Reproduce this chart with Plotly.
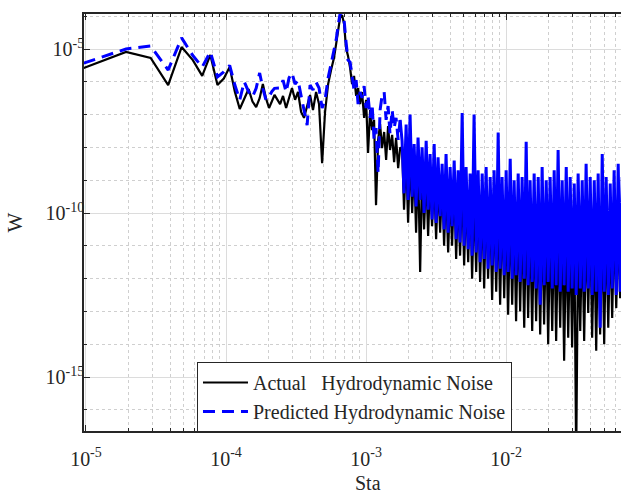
import numpy as np
import plotly.graph_objects as go

# ---------------- data (log10 of Sta and of W) ----------------
# low-frequency bins
sta_log10_low = [-5.016, -4.714, -4.538, -4.413, -4.317, -4.237, -4.170, -4.112, -4.061, -4.016,
                 -3.974, -3.937, -3.902, -3.870, -3.839, -3.811, -3.785, -3.760, -3.737, -3.715,
                 -3.693, -3.673, -3.654]
actual_log10_low = [-5.58, -5.09, -5.27, -6.10, -4.94, -5.34, -5.82, -5.18, -6.10, -5.90,
                    -5.55, -6.30, -6.83, -6.50, -6.22, -6.60, -6.77, -6.50, -6.07, -6.50,
                    -6.80, -6.60, -6.40]
pred_log10_low = [-5.43, -5.00, -4.91, -5.64, -4.66, -5.20, -5.55, -5.09, -5.85, -5.70,
                  -5.50, -6.10, -6.55, -6.00, -6.30, -6.46, -6.20, -5.73, -6.20, -6.55,
                  -6.46, -6.30, -6.20]

# mid band including the peak
sta_log10_mid = [-3.614, -3.593, -3.571, -3.550, -3.529, -3.507, -3.486, -3.464, -3.443, -3.421,
                 -3.400, -3.379, -3.357, -3.336, -3.314, -3.293, -3.271, -3.250, -3.229,
                 -3.214, -3.200, -3.186, -3.171, -3.157, -3.143, -3.129, -3.114, -3.100, -3.086,
                 -3.071, -3.057, -3.043, -3.029, -3.014, -3.000, -2.986, -2.971, -2.957, -2.943,
                 -2.929, -2.914, -2.900, -2.886, -2.871, -2.857, -2.843, -2.829, -2.814, -2.800,
                 -2.786, -2.771, -2.757]
actual_log10_mid = [-6.68, -6.43, -6.80, -6.49, -6.19, -6.55, -6.31, -6.92, -7.10, -6.74,
                    -6.40, -6.86, -6.31, -6.68, -8.48, -6.92, -6.07, -5.64, -5.27,
                    -4.85, -4.42, -4.05, -3.97, -4.24, -4.97, -5.21, -5.58, -6.07, -5.82,
                    -6.43, -6.19, -6.68, -6.31, -7.10, -6.55, -8.17, -6.86, -7.47, -7.16,
                    -9.76, -7.77, -7.29, -8.02, -7.53, -8.38, -7.35, -8.08, -7.62, -8.45,
                    -7.71, -8.63, -8.02]
pred_log10_mid = [-6.19, -5.95, -6.31, -5.88, -5.73, -6.07, -5.95, -6.43, -6.86, -7.32,
                  -6.10, -6.25, -6.01, -6.19, -6.80, -6.55, -5.88, -5.46, -5.09,
                  -4.73, -4.30, -3.93, -3.90, -4.12, -4.79, -5.34, -5.40, -5.76, -6.25,
                  -5.95, -6.68, -6.31, -6.49, -6.13, -6.80, -6.43, -7.10, -6.68, -7.77,
                  -7.41, -8.78, -6.86, -6.43, -6.31, -7.16, -6.74, -7.59, -6.86, -7.41,
                  -7.10, -7.77, -7.16]

# high-frequency dense band
sta_log10_high = [-2.743, -2.729, -2.714, -2.700, -2.686, -2.671, -2.657, -2.643, -2.629, -2.614,
                  -2.600, -2.586, -2.571, -2.557, -2.543, -2.529, -2.514, -2.500, -2.486, -2.471,
                  -2.457, -2.443, -2.429, -2.414, -2.400, -2.386, -2.371, -2.357, -2.343, -2.329,
                  -2.314, -2.300, -2.286, -2.271, -2.257, -2.243, -2.229, -2.214, -2.200, -2.186,
                  -2.171, -2.157, -2.143, -2.129, -2.114, -2.100, -2.086, -2.071, -2.057, -2.043,
                  -2.029, -2.014, -2.000, -1.986, -1.971, -1.957, -1.943, -1.929, -1.914, -1.900,
                  -1.886, -1.871, -1.857, -1.843, -1.829, -1.814, -1.800, -1.786, -1.771, -1.757,
                  -1.743, -1.729, -1.714, -1.700, -1.686, -1.671, -1.657, -1.643, -1.629, -1.614,
                  -1.600, -1.586, -1.571, -1.557, -1.543, -1.529, -1.514, -1.500, -1.486, -1.471,
                  -1.457, -1.443, -1.429, -1.414, -1.400, -1.386, -1.371, -1.357, -1.343, -1.329,
                  -1.314, -1.300, -1.286, -1.271, -1.257, -1.243, -1.229, -1.214, -1.200, -1.186,
                  -1.171]
actual_log10_high = [-8.0, -9.9, -8.2, -10.3, -8.3, -10.0, -8.5, -10.6, -8.4, -11.8,
                     -8.6, -10.5, -8.8, -10.7, -8.9, -10.4, -9.0, -10.8, -9.1, -10.6,
                     -9.0, -11.0, -9.2, -11.2, -9.3, -11.0, -9.1, -11.4, -9.4, -11.3,
                     -9.2, -11.6, -9.5, -11.5, -9.3, -12.0, -9.6, -11.8, -9.5, -12.1,
                     -9.7, -12.3, -9.6, -12.0, -9.8, -12.65, -9.7, -12.4, -9.9, -12.8,
                     -9.8, -12.6, -10.0, -13.1, -9.9, -12.8, -10.1, -13.3, -10.0, -13.0,
                     -10.2, -13.5, -10.0, -13.2, -10.3, -13.6, -10.1, -13.3, -10.4, -13.7,
                     -10.2, -13.4, -10.3, -14.0, -10.4, -13.6, -10.2, -13.9, -10.5, -13.5,
                     -10.3, -14.5, -10.4, -13.8, -10.5, -14.1, -10.3, -17.5, -10.6, -13.6,
                     -10.4, -13.9, -10.5, -13.05, -10.3, -13.8, -10.6, -14.2, -10.4, -13.7,
                     -10.5, -14.0, -10.3, -13.5, -10.6, -13.2, -10.4, -12.9, -10.5, -12.6,
                     -10.3]
pred_log10_high = [-7.8, -9.4, -7.3, -9.6, -7.0, -9.5, -7.9, -9.8, -7.7, -9.6,
                   -8.0, -10.0, -7.8, -9.9, -8.2, -10.2, -7.9, -10.3, -8.3, -10.1,
                   -8.5, -10.5, -8.2, -10.6, -8.6, -10.4, -8.4, -10.8, -8.7, -10.9,
                   -6.95, -11.0, -8.6, -11.1, -8.8, -11.3, -7.0, -11.2, -8.7, -11.5,
                   -8.8, -11.4, -8.6, -11.7, -8.9, -11.6, -8.7, -11.8, -7.55, -11.7,
                   -8.9, -11.9, -8.7, -11.8, -8.35, -12.0, -9.0, -11.9, -8.8, -12.1,
                   -8.9, -12.0, -7.83, -12.2, -9.0, -12.1, -8.8, -12.3, -8.9, -12.8,
                   -8.6, -12.2, -9.0, -12.1, -8.9, -12.3, -8.7, -12.2, -8.08, -12.4,
                   -9.0, -12.2, -8.6, -12.4, -8.9, -12.3, -9.1, -12.5, -8.8, -12.3,
                   -9.0, -12.4, -8.5, -12.3, -8.9, -12.5, -9.0, -12.4, -8.8, -13.5,
                   -8.2, -12.4, -8.9, -12.5, -9.1, -12.3, -8.7, -12.5, -8.5, -12.4,
                   -8.9]

series_names = ["Actual\u00a0\u00a0 Hydrodynamic Noise", "Predicted Hydrodynamic Noise"]

x_tick_vals = [1e-5, 1e-4, 1e-3, 1e-2]
x_tick_text = ["10<sup>-5</sup>", "10<sup>-4</sup>", "10<sup>-3</sup>", "10<sup>-2</sup>"]
y_tick_vals = [1e-15, 1e-10, 1e-5]
y_tick_text = ["10<sup>-15</sup>", "10<sup>-10</sup>", "10<sup>-5</sup>"]

# ---------------- build ----------------
sta_all = 10 ** np.array(sta_log10_low + sta_log10_mid + sta_log10_high)
w_actual = 10 ** np.array(actual_log10_low + actual_log10_mid + actual_log10_high)
assert len(sta_all) == len(w_actual)

# predicted series: sparse part dashed, dense part drawn solid (looks filled in the original)
sta_pred_sparse = 10 ** np.array(sta_log10_low + sta_log10_mid)
w_pred_sparse = 10 ** np.array(pred_log10_low + pred_log10_mid)
sta_pred_dense = 10 ** np.array(sta_log10_mid[-1:] + sta_log10_high)
w_pred_dense = 10 ** np.array(pred_log10_mid[-1:] + pred_log10_high)
assert len(sta_pred_sparse) == len(w_pred_sparse)
assert len(sta_pred_dense) == len(w_pred_dense)

x_minor = [m * 10.0 ** e for e in range(-6, 0) for m in range(2, 10)]
y_minor = [10.0 ** e for e in range(-17, -3)]

FONT = "Liberation Serif"
AX = "#262626"
BLUE = "#0000ff"

fig = go.Figure()
fig.add_trace(go.Scatter(x=sta_all, y=w_actual, mode="lines", name=series_names[0],
                         line=dict(color="black", width=2.2)))
fig.add_trace(go.Scatter(x=sta_pred_sparse, y=w_pred_sparse, mode="lines", name=series_names[1],
                         legendgroup="pred",
                         line=dict(color=BLUE, width=3, dash="12px,7px")))
fig.add_trace(go.Scatter(x=sta_pred_dense, y=w_pred_dense, mode="lines", name=series_names[1],
                         legendgroup="pred", showlegend=False,
                         line=dict(color=BLUE, width=3)))

axis_common = dict(
    showline=True, linecolor=AX, linewidth=1.5,
    ticks="inside", tickcolor=AX, ticklen=6, tickwidth=1,
    tickfont=dict(family=FONT, size=20, color=AX),
    showgrid=True, gridcolor="#dcdcdc", gridwidth=1,
    zeroline=False,
)

fig.update_xaxes(type="log", range=[-5.014, -1.18], tickmode="array",
                 tickvals=x_tick_vals, ticktext=x_tick_text, mirror="ticks",
                 ticklabelstandoff=9,
                 minor=dict(tickvals=x_minor, ticks="inside", ticklen=3, tickcolor=AX,
                            showgrid=True, gridcolor="#cfcfcf", griddash="dot", gridwidth=1),
                 **axis_common)
fig.update_yaxes(type="log", range=[-16.646, -3.933], tickmode="array",
                 tickvals=y_tick_vals, ticktext=y_tick_text, mirror=False,
                 ticklabelstandoff=-6,
                 minor=dict(tickvals=y_minor, ticks="inside", ticklen=3, tickcolor=AX,
                            showgrid=True, gridcolor="#cfcfcf", griddash="dot", gridwidth=1),
                 **axis_common)

fig.update_layout(
    width=621, height=493,
    margin=dict(l=84, r=0, t=14, b=62),
    paper_bgcolor="white", plot_bgcolor="white",
    font=dict(family=FONT, size=20, color=AX),
    showlegend=True,
    legend=dict(x=0.2104, y=0.0815, xanchor="left", yanchor="middle",
                bgcolor="white", bordercolor=AX, borderwidth=1, itemwidth=45,
                font=dict(family=FONT, size=20, color=AX), tracegroupgap=0),
    annotations=[
        dict(text="Sta", x=0.529, y=-0.1247, xref="paper", yref="paper",
             xanchor="center", yanchor="middle", showarrow=False,
             font=dict(family=FONT, size=20, color=AX)),
        dict(text="W", x=-0.1285, y=0.5, xref="paper", yref="paper",
             xanchor="center", yanchor="middle", showarrow=False, textangle=-90,
             font=dict(family=FONT, size=21, color=AX)),
    ],
)

fig.write_html("out.html", config={"displayModeBar": False},
               post_script="document.body.style.margin='0';document.body.style.overflow='hidden';")
